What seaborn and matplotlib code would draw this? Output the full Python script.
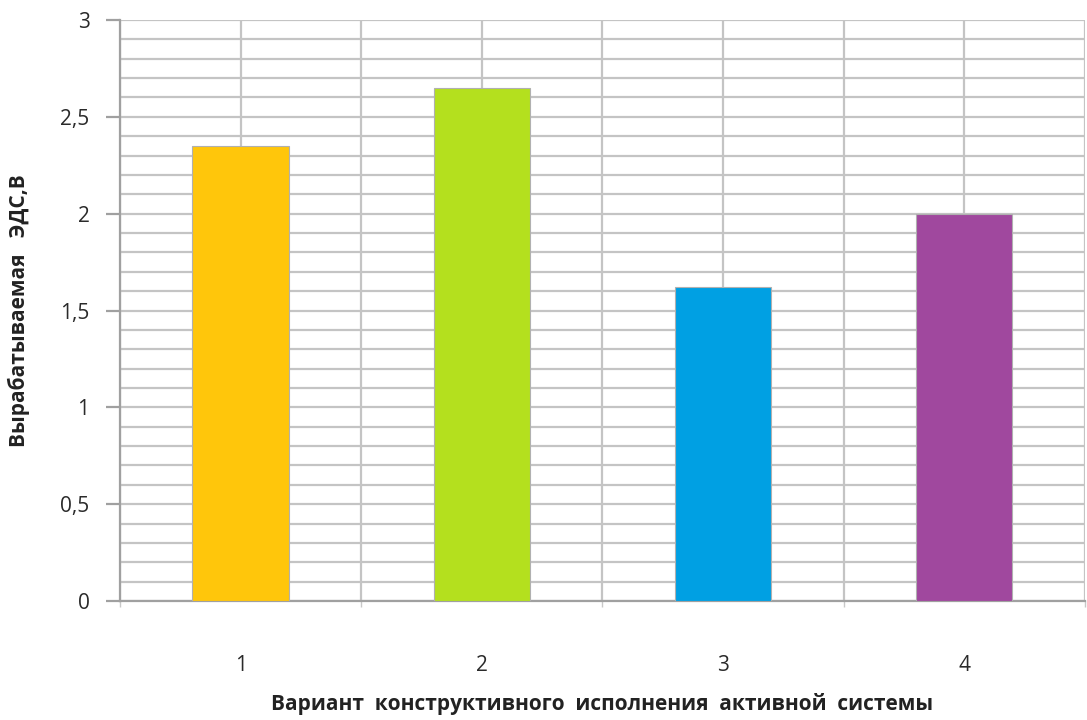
import matplotlib
matplotlib.use("Agg")
import matplotlib.pyplot as plt
import seaborn as sns
import numpy as np
import pandas as pd
from matplotlib.ticker import MultipleLocator, FixedLocator, FuncFormatter

categories = ["1", "2", "3", "4"]
values = [2.35, 2.65, 1.62, 2.0]
colors = ["#FFC60B", "#B4E01E", "#00A0E3", "#A0489E"]
y_ticks = [0, 0.5, 1, 1.5, 2, 2.5, 3]

sns.set_theme(style="white")
plt.rcParams['font.family'] = ['Open Sans', 'DejaVu Sans']

df = pd.DataFrame({"cat": categories, "val": values})

fig = plt.figure(figsize=(10.87, 7.2), dpi=100)
ax = fig.add_axes([0.1104, 0.1653, 0.998 - 0.1104, 0.9722 - 0.1653])

sns.barplot(data=df, x="cat", y="val", hue="cat", palette=colors, width=0.4,
            saturation=1, legend=False, ax=ax, edgecolor="#B0B0B0",
            linewidth=0.8, zorder=3)

ax.set_ylim(0, 3)
ax.set_xlim(-0.5, 3.5)
ax.yaxis.set_major_locator(FixedLocator(y_ticks))
ax.yaxis.set_minor_locator(MultipleLocator(0.1))
ax.yaxis.set_major_formatter(FuncFormatter(lambda v, p: (f"{v:g}").replace(".", ",")))
ax.xaxis.set_minor_locator(FixedLocator([-0.5, 0.5, 1.5, 2.5, 3.5]))

ax.grid(True, which="both", axis="both", color="#C4C4C4", linewidth=1.6, zorder=0)
ax.set_axisbelow(True)

for s in ["top", "right"]:
    ax.spines[s].set_visible(False)
ax.spines["left"].set_color("#A0A0A0")
ax.spines["left"].set_linewidth(1.6)
ax.spines["bottom"].set_color("#A0A0A0")
ax.spines["bottom"].set_linewidth(1.6)

ax.tick_params(axis="y", which="major", left=True, length=10, width=1.6, color="#A0A0A0",
               labelsize=15, labelcolor="#2A2A2A", pad=12)
ax.tick_params(axis="y", which="minor", left=False)
ax.tick_params(axis="x", which="major", bottom=False, labelsize=15, labelcolor="#2A2A2A", pad=33)
ax.tick_params(axis="x", which="minor", bottom=True, length=4, width=1, color="#C8C8C8")

ax.set_xlabel("Вариант  конструктивного  исполнения  активной  системы",
              fontsize=15, fontweight="bold", color="#222222", labelpad=12)
ax.set_ylabel("Вырабатываемая   ЭДС,В", fontsize=15, fontweight="bold",
              color="#222222", labelpad=22)

fig.savefig("out.png", dpi=100, facecolor="white")
